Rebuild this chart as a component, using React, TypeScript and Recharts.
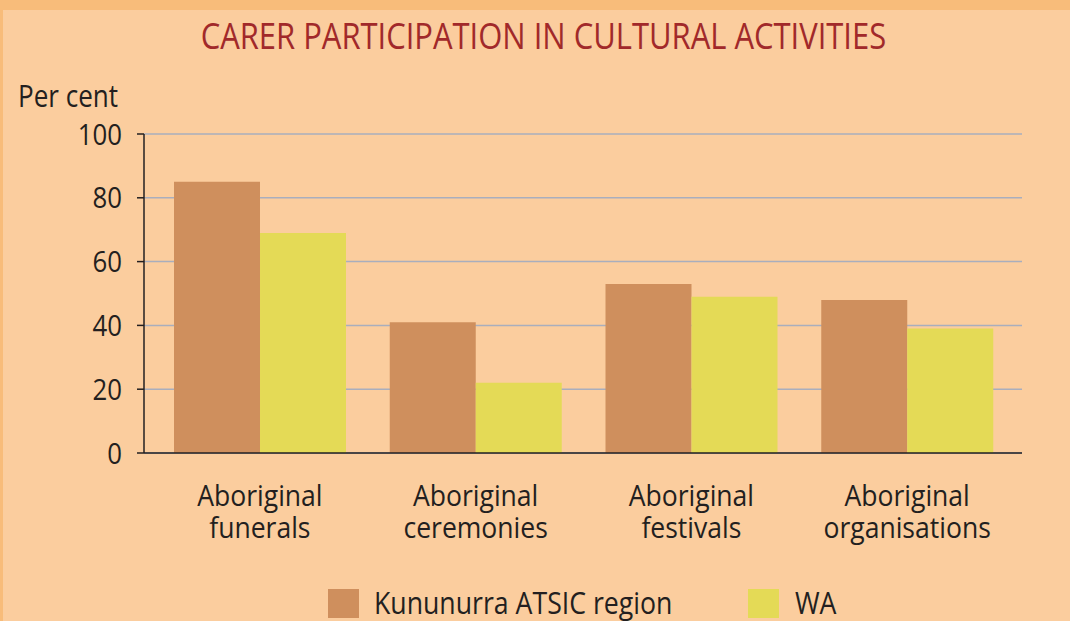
import React from 'react';
import { BarChart, Bar, XAxis, YAxis, CartesianGrid } from 'recharts';

const categories = ['Aboriginal funerals', 'Aboriginal ceremonies', 'Aboriginal festivals', 'Aboriginal organisations'];
const kununurra = [85, 41, 53, 48];
const wa = [69, 22, 49, 39];
const yTicks = [0, 20, 40, 60, 80, 100];
const seriesNames = ['Kununurra ATSIC region', 'WA'];
const title = 'CARER PARTICIPATION IN CULTURAL ACTIVITIES';
const yLabel = 'Per cent';

const data = categories.map((c, i) => ({ name: c, k: kununurra[i], w: wa[i] }));

const FONT = '"Open Sans", "Noto Sans", sans-serif';
const TEXT = '#231F20';
const C_K = '#CF8F5D';
const C_W = '#E4DA56';

const XTick = (props: any) => {
  const { x, y, payload } = props;
  const words = String(payload.value).split(' ');
  return (
    <g transform={`translate(${x},${y}) scale(0.9,1)`}>
      <text x={0} y={0} textAnchor="middle" fontFamily={FONT} fontSize={29.5} fill={TEXT}>
        <tspan x={0} dy={45}>{words[0]}</tspan>
        <tspan x={0} dy={32}>{words.slice(1).join(' ')}</tspan>
      </text>
    </g>
  );
};

const YTick = (props: any) => {
  const { x, y, payload } = props;
  return (
    <g transform={`translate(${x - 6},${y}) scale(0.86,1)`}>
      <text x={0} y={0} dy={10.5} textAnchor="end" fontFamily={FONT} fontSize={30} fill={TEXT}>{payload.value}</text>
    </g>
  );
};

const label = (extra: React.CSSProperties): React.CSSProperties => ({
  position: 'absolute', fontFamily: FONT, color: TEXT, whiteSpace: 'nowrap', lineHeight: 'normal', transformOrigin: 'left top', ...extra,
});

export default function App() {
  return (
    <div style={{ position: 'absolute', left: 0, top: 0, width: 1070, height: 621, background: '#F8BC7A', overflow: 'hidden' }}>
      <div style={{ position: 'absolute', left: 3, top: 10, width: 1067, height: 611, background: '#FBCD9E' }} />
      <div style={{ position: 'absolute', left: 0, top: 10.5, width: 1087, textAlign: 'center', fontFamily: FONT, fontSize: 36, lineHeight: 'normal', color: '#A1292A', whiteSpace: 'nowrap', transform: 'scaleX(0.86)', transformOrigin: '543px 0' }}>{title}</div>
      <div style={label({ left: 18, top: 74, fontSize: 31, transform: 'scaleX(0.84)' })}>{yLabel}</div>
      <div style={{ position: 'absolute', left: 0, top: 0 }}>
        <BarChart width={1070} height={621} data={data} margin={{ top: 134, right: 48, left: 0, bottom: 88 }} barCategoryGap={22} barGap={0}>
          <CartesianGrid vertical={false} stroke="#A9AEBD" strokeWidth={1.5} />
          <XAxis dataKey="name" tick={<XTick />} tickLine={false} axisLine={{ stroke: TEXT, strokeWidth: 1.5 }} interval={0} height={80} padding={{ left: 8, right: 7 }} />
          <YAxis domain={[0, 100]} ticks={yTicks} width={144} tickSize={7} tickMargin={9} axisLine={{ stroke: TEXT, strokeWidth: 1.5 }} tickLine={{ stroke: TEXT, strokeWidth: 1.5 }} tick={<YTick />} />
          <Bar dataKey="k" fill={C_K} isAnimationActive={false} />
          <Bar dataKey="w" fill={C_W} isAnimationActive={false} />
        </BarChart>
      </div>
      <div style={{ position: 'absolute', left: 328, top: 589, width: 31, height: 29, background: C_K }} />
      <div style={label({ left: 374, top: 581, fontSize: 31, transform: 'scaleX(0.86)' })}>{seriesNames[0]}</div>
      <div style={{ position: 'absolute', left: 748, top: 589, width: 31, height: 29, background: C_W }} />
      <div style={label({ left: 795, top: 581, fontSize: 31, transform: 'scaleX(0.86)' })}>{seriesNames[1]}</div>
    </div>
  );
}
